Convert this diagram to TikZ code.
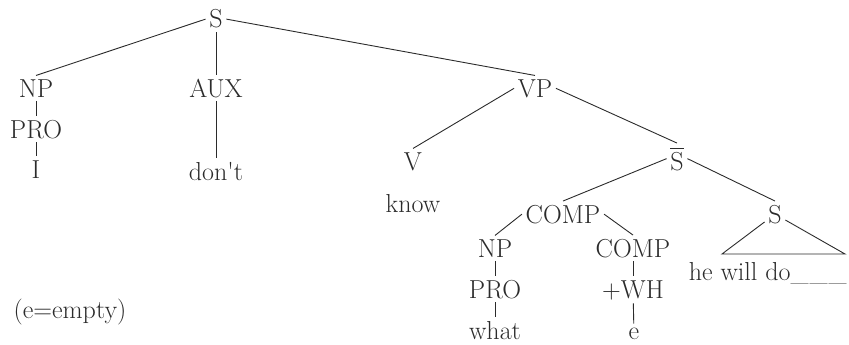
\documentclass[tikz,border=0pt]{standalone}
\usepackage{amsmath}
\usepackage{fontspec}
\usepackage{tikz}
\definecolor{ink}{HTML}{2B2B2B}

\begin{document}
\begin{tikzpicture}[x=1pt,y=-1pt,color=ink,line width=0.9pt,
  word/.style={anchor=base,font=\fontsize{26}{31}\selectfont}]
\useasboundingbox (0,0) rectangle (849,345);
% top level
\node [word] (s) at (216,28) {S};
\node [word] (np) at (36,97) {NP};
\node [word] (pro) at (36,138) {PRO};
\node [word] (i) at (36,178) {I};
\node [word] (aux) at (216,97) {AUX};
\node [word] (dont) at (216,180) {don\textquotesingle t};
\node [word] (vp) at (535,97) {VP};
% verb phrase
\node [word] (v) at (413,170) {V};
\node [word] (know) at (413,212) {know};
\node [word] (sbar) at (677,170) {$\overline{\mathrm{S}}$};
\node [word] (comp) at (563,223) {COMP};
\node [word] (s2) at (775,223) {S};
\node [word] (np2) at (495,257) {NP};
\node [word] (comp2) at (633,257) {COMP};
\node [word] (pro2) at (495,298) {PRO};
\node [word] (wh) at (633,298) {+WH};
\node [word] (what) at (495,339) {what};
\node [word] (e) at (634,339) {e};
\node [word,anchor=base east,inner xsep=0pt] (he) at (847,280) {he will do\_\kern1pt\_\kern1pt\_};
\node [word] (note) at (70,318) {(e=empty)};
\coordinate (tl) at (722,254);
\coordinate (tr) at (845,254);

\draw (s.west) -- (np.north);
\draw (s) -- (aux);
\draw (s.east) -- (vp.north);
\draw (np) -- (pro);
\draw (pro) -- (i);
\draw (aux) -- (dont);
\draw (vp.west) -- (v.north);
\draw (vp.east) -- (sbar.north);
\draw (sbar.west) -- (comp.north);
\draw (sbar.east) -- (s2.north);
\draw (comp.west) -- (np2.north);
\draw (comp.east) -- (comp2.north);
\draw (np2) -- (pro2);
\draw (pro2) -- (what);
\draw (comp2) -- (wh);
\draw (wh) -- (e);
\draw (s2) -- (tl) -- (tr) -- (s2);
\end{tikzpicture}
\end{document}
